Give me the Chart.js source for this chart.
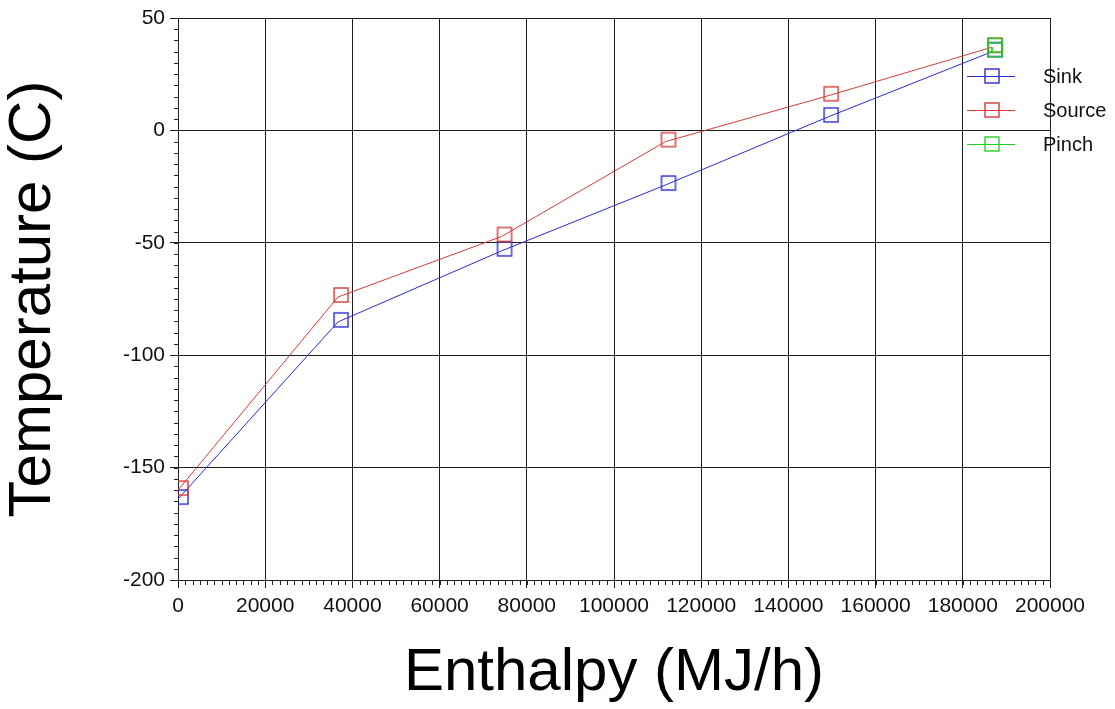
<!DOCTYPE html>
<html>
<head>
<meta charset="utf-8">
<script src="https://cdn.jsdelivr.net/npm/chart.js@4/dist/chart.umd.min.js"></script>
<style>
  html, body { margin: 0; padding: 0; background: #fff; }
  canvas { display: block; }
</style>
</head>
<body>
<canvas id="cc" width="1115" height="709"></canvas>
<script>
// composite curves: enthalpy (MJ/h) vs temperature (C)
const enthalpy = [0, 36700, 74200, 111800, 149100, 186700];
const sinkTemp = [-164, -85.2, -53.6, -24.3, 6, 35];
const sourceTemp = [-160, -74.1, -47.2, -5, 15.4, 37];
const pinchEnthalpy = [186700, 186700];
const pinchTemp = [37, 35];

const xTicks = [0, 20000, 40000, 60000, 80000, 100000, 120000, 140000, 160000, 180000, 200000];
const yTicks = [-200, -150, -100, -50, 0, 50];

const SINK = "#2b2bd6";
const SOURCE = "#d83a3a";
const PINCH = "#22d022";
const FONT = "'Liberation Sans', Arial, sans-serif";

// square marker, drawn a little up and to the right of the vertex
function squareMarker(color, dx, dy) {
  const c = document.createElement("canvas");
  c.width = 26;
  c.height = 26;
  const g = c.getContext("2d");
  g.strokeStyle = color;
  g.lineWidth = 1.4;
  g.strokeRect(6 + dx, 6 + dy, 14, 14);
  return c;
}

function pts(xs, ys) {
  return xs.map((x, i) => ({ x: x, y: ys[i] }));
}

// lower order is painted last, so Pinch ends up on top
function series(label, color, xs, ys, order) {
  return {
    label: label,
    data: pts(xs, ys),
    showLine: true,
    borderColor: color,
    backgroundColor: color,
    borderWidth: 1,
    pointStyle: squareMarker(color, 3, -2),
    pointRadius: 7,
    pointHoverRadius: 7,
    clip: 0,
    order: order
  };
}

// minor tick marks along both axes
const minorTicks = {
  id: "minorTicks",
  afterDraw(chart) {
    const { ctx, chartArea, scales } = chart;
    ctx.save();
    ctx.strokeStyle = "#222";
    ctx.lineWidth = 1;
    ctx.beginPath();
    for (let v = -200; v <= 50; v += 5) {
      const y = Math.round(scales.y.getPixelForValue(v)) + 0.5;
      ctx.moveTo(chartArea.left - 4, y);
      ctx.lineTo(chartArea.left, y);
    }
    for (let i = 0; i <= 120; i++) {
      const x = Math.round(scales.x.getPixelForValue(i * 20000 / 12)) + 0.5;
      ctx.moveTo(x, chartArea.bottom);
      ctx.lineTo(x, chartArea.bottom + 5);
    }
    ctx.stroke();
    ctx.restore();
  }
};

// legend drawn over the upper right corner of the plot
const cornerLegend = {
  id: "cornerLegend",
  afterDraw(chart) {
    const { ctx } = chart;
    ctx.save();
    ctx.font = "20px " + FONT;
    ctx.textBaseline = "middle";
    ctx.fillStyle = "#111";
    chart.data.datasets.forEach((ds, i) => {
      const y = 76 + i * 34;
      ctx.strokeStyle = ds.borderColor;
      ctx.lineWidth = 1;
      ctx.beginPath();
      ctx.moveTo(967, y + 0.5);
      ctx.lineTo(1015, y + 0.5);
      ctx.stroke();
      ctx.lineWidth = 1.4;
      ctx.strokeRect(985, y - 7, 14, 14);
      ctx.fillText(ds.label, 1043, y + 1);
    });
    ctx.restore();
  }
};

new Chart(document.getElementById("cc").getContext("2d"), {
  type: "scatter",
  data: {
    datasets: [
      series("Sink", SINK, enthalpy, sinkTemp, 2),
      series("Source", SOURCE, enthalpy, sourceTemp, 1),
      series("Pinch", PINCH, pinchEnthalpy, pinchTemp, 0)
    ]
  },
  options: {
    responsive: false,
    animation: false,
    layout: { padding: { top: 18, right: 65, left: 0, bottom: 0 } },
    plugins: {
      legend: { display: false },
      tooltip: { enabled: false }
    },
    scales: {
      x: {
        type: "linear",
        min: 0,
        max: 200000,
        afterBuildTicks: (s) => { s.ticks = xTicks.map((v) => ({ value: v })); },
        afterFit: (s) => { s.height = 129; },
        ticks: {
          color: "#111",
          font: { family: FONT, size: 21 },
          padding: 6,
          maxRotation: 0,
          callback: (v) => String(v)
        },
        grid: { color: "#1e1e1e", lineWidth: 1, tickLength: 8 },
        border: { color: "#1e1e1e", width: 1 },
        title: {
          display: true,
          text: "Enthalpy (MJ/h)",
          color: "#000",
          font: { family: FONT, size: 60 },
          padding: 0
        }
      },
      y: {
        type: "linear",
        min: -200,
        max: 50,
        afterBuildTicks: (s) => { s.ticks = yTicks.map((v) => ({ value: v })); },
        afterFit: (s) => { s.width = 178; },
        ticks: {
          color: "#111",
          font: { family: FONT, size: 21 },
          padding: 5
        },
        grid: { color: "#1e1e1e", lineWidth: 1, tickLength: 8 },
        border: { color: "#1e1e1e", width: 1 },
        title: {
          display: true,
          text: "Temperature (C)",
          color: "#000",
          font: { family: FONT, size: 60, lineHeight: 1.13 },
          padding: 0
        }
      }
    }
  },
  plugins: [minorTicks, cornerLegend]
});
</script>
</body>
</html>
